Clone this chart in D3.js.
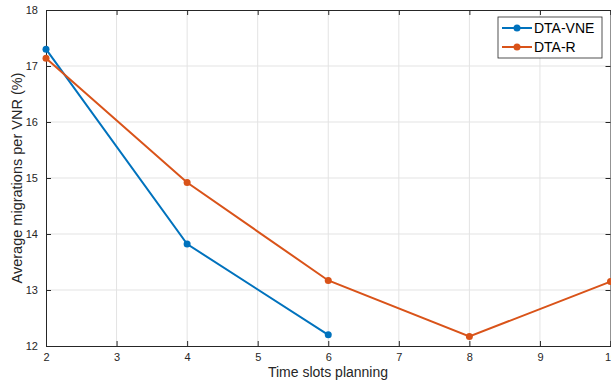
<!DOCTYPE html>
<html lang="en">
<head>
<meta charset="UTF-8">
<title>Average migrations per VNR</title>
<script src="https://d3js.org/d3.v7.min.js"></script>
<style>
  body { margin: 0; background: #fff; }
  svg { font-family: "Liberation Sans", Arial, sans-serif; }
  .tick text { fill: #262626; font-size: 11px; }
</style>
</head>
<body>
<svg id="chart" width="611" height="385"></svg>
<script>
// Data
const slots = [2, 4, 6, 8, 10];
const seriesNames = ["DTA-VNE", "DTA-R"];
const dtaVne = [17.3, 13.82, 12.2];
const dtaR = [17.14, 14.92, 13.17, 12.17, 13.15];
const xTicks = [2, 3, 4, 5, 6, 7, 8, 9, 10];
const yTicks = [12, 13, 14, 15, 16, 17, 18];
const colors = ["#0072BD", "#D95319"];

const margin = { top: 10, right: 0.5, bottom: 39, left: 46 };
const W = 611, H = 385;
const width = W - margin.left - margin.right;
const height = H - margin.top - margin.bottom;

const svg = d3.select("#chart");
const g = svg.append("g").attr("transform", `translate(${margin.left},${margin.top})`);

const x = d3.scaleLinear().domain([2, 10]).range([0, width]);
const y = d3.scaleLinear().domain([12, 18]).range([height, 0]);

// grid
g.append("g").selectAll("line").data(xTicks.slice(1, -1)).enter().append("line")
  .attr("x1", d => x(d)).attr("x2", d => x(d)).attr("y1", 0).attr("y2", height)
  .attr("stroke", "#e3e3e3").attr("stroke-width", 1);
g.append("g").selectAll("line").data(yTicks.slice(1, -1)).enter().append("line")
  .attr("y1", d => y(d)).attr("y2", d => y(d)).attr("x1", 0).attr("x2", width)
  .attr("stroke", "#e3e3e3").attr("stroke-width", 1);

// axes
const axisColor = "#262626";
const xAxis = g.append("g").attr("transform", `translate(0,${height})`)
  .call(d3.axisBottom(x).tickValues(xTicks).tickSize(-5).tickPadding(7).tickFormat(d3.format("d")));
const yAxis = g.append("g")
  .call(d3.axisLeft(y).tickValues(yTicks).tickSize(-5).tickPadding(8).tickFormat(d3.format("d")));
const xTop = g.append("g")
  .call(d3.axisTop(x).tickValues(xTicks).tickSize(-5).tickFormat(""));
const yRight = g.append("g").attr("transform", `translate(${width},0)`)
  .call(d3.axisRight(y).tickValues(yTicks).tickSize(-5).tickFormat(""));
[xAxis, yAxis, xTop, yRight].forEach(a => {
  a.select(".domain").attr("stroke", axisColor).attr("stroke-width", 1);
  a.selectAll(".tick line").attr("stroke", axisColor);
});

// lines
const line = d3.line().x(d => x(d[0])).y(d => y(d[1]));
const series = [dtaVne, dtaR].map(vals => vals.map((v, i) => [slots[i], v]));
series.forEach((pts, i) => {
  g.append("path").datum(pts)
    .attr("fill", "none").attr("stroke", colors[i]).attr("stroke-width", 2)
    .attr("d", line);
  g.selectAll(null).data(pts).enter().append("circle")
    .attr("cx", d => x(d[0])).attr("cy", d => y(d[1])).attr("r", 3.5)
    .attr("fill", colors[i]);
});

// axis labels
svg.append("text")
  .attr("x", 328).attr("y", 377)
  .attr("text-anchor", "middle").attr("font-size", "14px").attr("fill", axisColor)
  .text("Time slots planning");
svg.append("text")
  .attr("transform", `translate(22,${margin.top + height / 2}) rotate(-90)`)
  .attr("text-anchor", "middle").attr("font-size", "14.5px").attr("fill", axisColor)
  .text("Average migrations per VNR (%)");

// legend
const lg = svg.append("g").attr("transform", "translate(498,17)");
lg.append("rect").attr("width", 104).attr("height", 41)
  .attr("fill", "#fff").attr("stroke", axisColor).attr("stroke-width", 0.8);
seriesNames.forEach((name, i) => {
  const ly = 11 + i * 19;
  lg.append("line").attr("x1", 4).attr("x2", 34).attr("y1", ly).attr("y2", ly)
    .attr("stroke", colors[i]).attr("stroke-width", 2);
  lg.append("circle").attr("cx", 19).attr("cy", ly).attr("r", 3.5).attr("fill", colors[i]);
  lg.append("text").attr("x", 36).attr("y", ly + 5)
    .attr("font-size", "14px").attr("fill", "#000").text(name);
});
</script>
</body>
</html>
